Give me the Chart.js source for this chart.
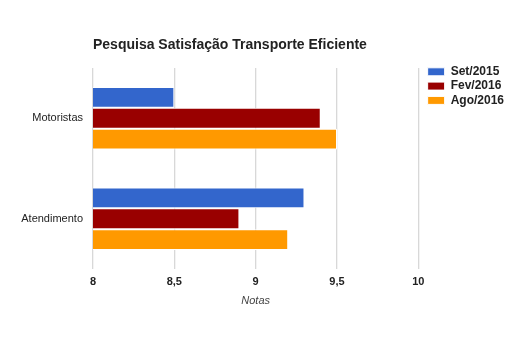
<!DOCTYPE html>
<html>
<head>
<meta charset="utf-8">
<script src="https://cdn.jsdelivr.net/npm/chart.js@4.4.0/dist/chart.umd.min.js"></script>
<style>
    html, body { margin: 0; padding: 0; background: #fff; }
</style>
</head>
<body>
<canvas id="bar_chart" width="515" height="342"></canvas>
<script>
const categories = ['Motoristas', 'Atendimento'];
const seriesNames = ['Set/2015', 'Fev/2016', 'Ago/2016'];
const set2015 = [8.5, 9.3];
const fev2016 = [9.4, 8.9];
const ago2016 = [9.5, 9.2];
const xTicks = [8, 8.5, 9, 9.5, 10];

const colorList = ['#3366CC', '#990000', '#FF9900'];
const fontName = "'Liberation Sans', Arial, sans-serif";

// nudge the legend a bit away from the plot, like the original
const legendShift = {
    id: 'legendShift',
    afterLayout: (chart) => {
        const lg = chart.legend;
        lg.left += 7;
        lg.right += 7;
        lg.top -= 4.5;
        lg.bottom -= 4.5;
    }
};

const ctx = document.querySelector('#bar_chart');
const chart = new Chart(ctx, {
    type: 'bar',
    data: {
        labels: categories,
        datasets: [set2015, fev2016, ago2016].map((vals, i) => ({
            label: seriesNames[i],
            data: vals,
            backgroundColor: colorList[i],
            borderColor: '#ffffff',
            borderWidth: 1,
            categoryPercentage: 0.62,
            barPercentage: 1
        }))
    },
    plugins: [legendShift],
    options: {
        indexAxis: 'y',
        responsive: false,
        animation: false,
        layout: { padding: { left: 13, right: 8, top: 0, bottom: 0 } },
        plugins: {
            tooltip: { enabled: false },
            title: {
                display: true,
                text: 'Pesquisa Satisfação Transporte Eficiente',
                align: 'start',
                fullSize: false,
                color: '#222',
                font: { family: fontName, size: 14, weight: 'bold' },
                padding: { top: 36.6, bottom: 14.6 }
            },
            legend: {
                position: 'right',
                align: 'start',
                fullSize: false,
                labels: {
                    boxWidth: 17,
                    boxHeight: 8,
                    padding: 2.3,
                    color: '#222',
                    font: { family: fontName, size: 12, weight: 'bold' }
                }
            }
        },
        scales: {
            x: {
                min: 8,
                max: 10,
                afterBuildTicks: (scale) => {
                    scale.ticks = xTicks.map(v => ({ value: v }));
                },
                afterFit: (scale) => { scale.height = 73; },
                grid: { color: '#d8d8d8', lineWidth: 1.3, drawTicks: false },
                border: { display: false },
                ticks: {
                    padding: 6,
                    color: '#222',
                    font: { family: fontName, size: 11, weight: 'bold' },
                    callback: (value) => String(value).replace('.', ',')
                },
                title: {
                    display: true,
                    text: 'Notas',
                    color: '#444',
                    font: { family: fontName, size: 11, style: 'italic' },
                    padding: { top: 34.4, bottom: 34.4 }
                }
            },
            y: {
                afterFit: (scale) => { scale.width = 80; },
                grid: { display: false, drawTicks: false },
                border: { display: false },
                ticks: {
                    padding: 10,
                    color: '#222',
                    font: { family: fontName, size: 11 }
                }
            }
        }
    }
});
</script>
</body>
</html>
